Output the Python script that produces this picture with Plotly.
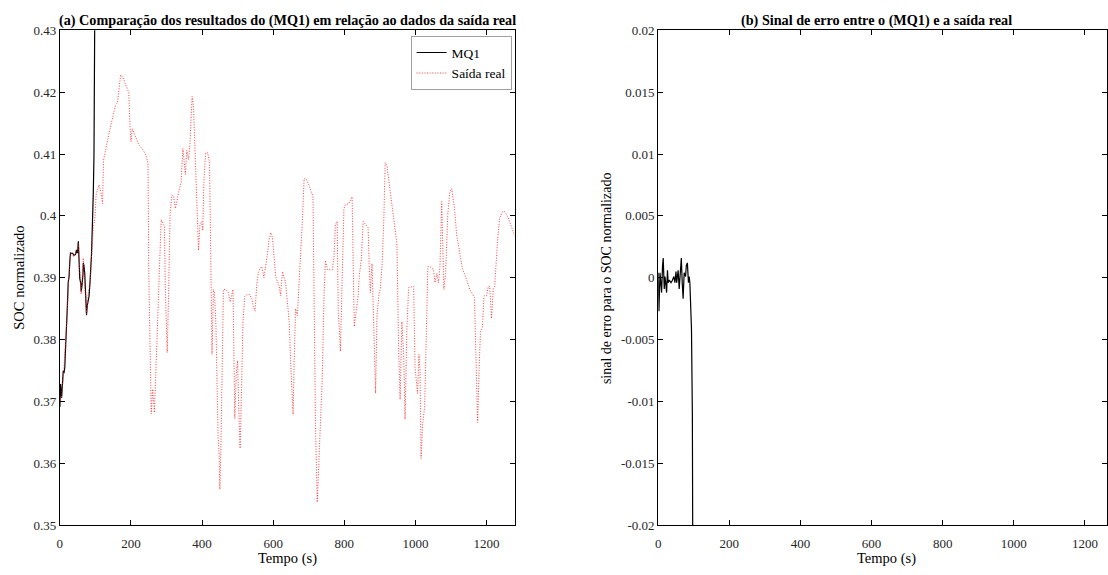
import numpy as np
import plotly.graph_objects as go

# Measured SOC (normalised) over time
real_t = [0, 5, 10, 15, 20, 25, 30, 35, 40, 45, 49, 52, 56, 60, 63, 66, 70, 75, 80, 85,
          90, 94, 99, 102, 110, 115, 120, 123, 138, 152, 157, 162, 166, 171, 178, 185, 194, 197, 200, 204,
          222, 236, 243, 248, 250, 257, 261, 266, 271, 276, 280, 285, 290, 294, 297, 302, 306, 310, 315, 320,
          325, 330, 336, 341, 346, 350, 353, 357, 362, 366, 372, 376, 381, 385, 390, 394, 399, 402, 405, 410,
          416, 421, 424, 428, 432, 435, 439, 442, 445, 448, 450, 453, 456, 460, 467, 474, 479, 483, 487, 489,
          492, 496, 500, 503, 507, 511, 515, 520, 528, 534, 540, 544, 549, 554, 558, 563, 568, 574, 579, 584,
          588, 593, 598, 602, 607, 612, 617, 621, 626, 630, 635, 640, 645, 649, 654, 656, 659, 663, 668, 673,
          677, 682, 687, 693, 701, 708, 712, 716, 719, 724, 729, 733, 738, 743, 747, 753, 761, 766, 771, 775,
          780, 783, 786, 789, 794, 799, 803, 813, 822, 825, 828, 833, 839, 842, 848, 853, 859, 867, 870, 873,
          878, 881, 886, 888, 892, 897, 901, 906, 911, 915, 920, 929, 939, 948, 953, 957, 962, 967, 971, 976,
          981, 990, 995, 999, 1006, 1010, 1013, 1016, 1020, 1026, 1030, 1035, 1041, 1051, 1055, 1060, 1065, 1069, 1074, 1077,
          1080, 1085, 1091, 1097, 1102, 1110, 1116, 1125, 1132, 1144, 1153, 1166, 1169, 1172, 1175, 1179, 1183, 1188, 1193, 1200,
          1205, 1209, 1214, 1219, 1223, 1231, 1237, 1245, 1251, 1261, 1270, 1279]
real_soc = [0.3695, 0.3710, 0.3740, 0.3780, 0.3835, 0.3900, 0.3938, 0.3936, 0.3934, 0.3940, 0.3942, 0.3955, 0.3905, 0.3873, 0.3900, 0.3932, 0.3890, 0.3842, 0.3876, 0.3890,
            0.3944, 0.3980, 0.3998, 0.4034, 0.4050, 0.4040, 0.4020, 0.4090, 0.4133, 0.4170, 0.4180, 0.4183, 0.4201, 0.4228, 0.4223, 0.4212, 0.4199, 0.4149, 0.4120, 0.4141,
            0.4115, 0.4105, 0.4097, 0.4085, 0.3913, 0.3680, 0.3720, 0.3682, 0.3770, 0.3834, 0.3928, 0.3994, 0.3987, 0.3983, 0.3876, 0.3779, 0.3876, 0.4002, 0.4034, 0.4031,
            0.4012, 0.4028, 0.4043, 0.4054, 0.4109, 0.4086, 0.4067, 0.4106, 0.4091, 0.4117, 0.4193, 0.4175, 0.4091, 0.4043, 0.3944, 0.3987, 0.3991, 0.3976, 0.4054, 0.4102,
            0.4102, 0.4086, 0.3908, 0.3776, 0.3881, 0.3876, 0.3823, 0.3719, 0.3645, 0.3613, 0.3558, 0.3624, 0.3771, 0.3881, 0.3881, 0.3876, 0.3861, 0.3873, 0.3881, 0.3798,
            0.3672, 0.3744, 0.3766, 0.3692, 0.3624, 0.3719, 0.3829, 0.3870, 0.3873, 0.3873, 0.3866, 0.3854, 0.3846, 0.3890, 0.3908, 0.3915, 0.3918, 0.3900, 0.3918, 0.3939,
            0.3960, 0.3973, 0.3965, 0.3934, 0.3902, 0.3894, 0.3886, 0.3871, 0.3910, 0.3902, 0.3892, 0.3860, 0.3829, 0.3766, 0.3713, 0.3679, 0.3766, 0.3850, 0.3839, 0.3892,
            0.3923, 0.3991, 0.4060, 0.4060, 0.4049, 0.4039, 0.4031, 0.3818, 0.3661, 0.3537, 0.3608, 0.3661, 0.3739, 0.3871, 0.3928, 0.3913, 0.3913, 0.3913, 0.3934, 0.3986,
            0.3991, 0.3844, 0.3818, 0.3781, 0.3897, 0.4012, 0.4018, 0.4020, 0.4031, 0.3897, 0.3821, 0.3844, 0.3871, 0.3902, 0.3931, 0.3991, 0.3986, 0.3981, 0.3923, 0.3876,
            0.3923, 0.3844, 0.3766, 0.3713, 0.3839, 0.3871, 0.3881, 0.3918, 0.3991, 0.4086, 0.4081, 0.4039, 0.3997, 0.3955, 0.3781, 0.3703, 0.3829, 0.3776, 0.3671, 0.3818,
            0.3884, 0.3886, 0.3886, 0.3755, 0.3713, 0.3776, 0.3750, 0.3608, 0.3661, 0.3692, 0.3776, 0.3918, 0.3918, 0.3913, 0.3892, 0.3907, 0.3892, 0.3918, 0.4023, 0.3939,
            0.3881, 0.3907, 0.4002, 0.4039, 0.4044, 0.4012, 0.3970, 0.3939, 0.3915, 0.3897, 0.3881, 0.3868, 0.3802, 0.3697, 0.3666, 0.3750, 0.3813, 0.3818, 0.3871, 0.3871,
            0.3886, 0.3886, 0.3834, 0.3881, 0.3886, 0.3960, 0.3997, 0.4007, 0.4007, 0.3997, 0.3981, 0.3968]

# Error signal (measured - MQ1)
err_t = [0, 2, 5, 7, 9.5, 12, 14, 17, 19, 21, 23.5, 26, 28, 31, 36, 40, 44, 47, 50, 52, 56,
         59, 62, 65, 67.5, 70, 73, 77, 79, 82, 85, 87, 89, 91.5, 93.5, 96, 98, 99, 102, 110]
err_val = [0.0004, -0.0027, 0.0004, -0.0004, -0.0012, 0.0009, 0.0016, -0.0009, 0.0001, -0.0004, -0.0012,
           0.0006, -0.0004, -0.0002, -0.0004, -0.0002, 0.0001, -0.0004, 0.0005, -0.0004, 0.0006,
           -0.0009, 0.0005, 0.0016, -0.0004, -0.0017, 0.0004, 0.0001, 0.0010, 0.0012, -0.0004,
           0.0001, -0.0004, -0.0023, -0.0041, -0.0110, -0.0200, -0.0300, -0.0600, -0.1500]

soc_ticks = [0.35, 0.36, 0.37, 0.38, 0.39, 0.40, 0.41, 0.42, 0.43]
soc_ticktext = ["0.35", "0.36", "0.37", "0.38", "0.39", "0.4", "0.41", "0.42", "0.43"]
err_ticks = [-0.02, -0.015, -0.01, -0.005, 0, 0.005, 0.01, 0.015, 0.02]
err_ticktext = ["-0.02", "-0.015", "-0.01", "-0.005", "0", "0.005", "0.01", "0.015", "0.02"]
time_ticks = [0, 200, 400, 600, 800, 1000, 1200]

# MQ1 estimate reconstructed from measured output and error signal
mq1_t = np.array(sorted(set([t for t in real_t if t <= 110]) | set(err_t)))
mq1_soc = np.interp(mq1_t, real_t, real_soc) - np.interp(mq1_t, err_t, err_val)

W, H = 1108, 575
FONT = "Liberation Serif"
TXT = "#262626"

fig = go.Figure()
fig.add_trace(go.Scatter(x=mq1_t, y=mq1_soc, mode="lines", name="MQ1",
                         line=dict(color="black", width=1.2), xaxis="x", yaxis="y"))
fig.add_trace(go.Scatter(x=real_t, y=real_soc, mode="lines", name="Saída real",
                         line=dict(color="rgba(255,40,40,0.9)", width=1, dash="1px,1.6px"),
                         xaxis="x", yaxis="y"))
fig.add_trace(go.Scatter(x=err_t, y=err_val, mode="lines", showlegend=False,
                         line=dict(color="black", width=1.2), xaxis="x2", yaxis="y2"))

ydom = [1 - 532 / H, 1 - 24 / H]
axis_common = dict(showline=True, linecolor="black", linewidth=1, mirror="ticks",
                   ticks="inside", ticklen=5, tickcolor="black", showgrid=False,
                   zeroline=False, tickfont=dict(family=FONT, size=13, color=TXT))

fig.update_layout(
    width=W, height=H, margin=dict(l=0, r=0, t=0, b=0),
    paper_bgcolor="white", plot_bgcolor="white",
    xaxis=dict(domain=[57 / W, 513 / W], range=[0, 1279], tickvals=time_ticks,
               anchor="y", ticklabelstandoff=6, **axis_common),
    yaxis=dict(domain=ydom, range=[0.35, 0.43], tickvals=soc_ticks, ticktext=soc_ticktext,
               anchor="x", **axis_common),
    xaxis2=dict(domain=[657 / W, 1107 / W], range=[0, 1262], tickvals=time_ticks,
                anchor="y2", ticklabelstandoff=6, **axis_common),
    yaxis2=dict(domain=ydom, range=[-0.02, 0.02], tickvals=err_ticks, ticktext=err_ticktext,
                anchor="x2", **axis_common),
    legend=dict(x=510 / W, y=1 - 30 / H, xanchor="right", yanchor="top",
                bgcolor="white", bordercolor="#a0a0a0", borderwidth=1,
                font=dict(family=FONT, size=13.5, color="black"),
                tracegroupgap=0, itemwidth=30),
    showlegend=True,
)

ann = [
    dict(text="<b>(a) Comparação dos resultados do (MQ1) em relação ao dados da saída real</b>",
         x=285 / W, y=1 - 14 / H, font=dict(size=14.2)),
    dict(text="<b>(b) Sinal de erro entre o (MQ1) e a saída real</b>",
         x=876 / W, y=1 - 14 / H, font=dict(size=14.2)),
    dict(text="Tempo (s)", x=285 / W, y=1 - 566 / H, font=dict(size=14.5)),
    dict(text="Tempo (s)", x=886 / W, y=1 - 566 / H, font=dict(size=14.5)),
    dict(text="SOC normalizado", x=16 / W, y=1 - 278 / H, textangle=-90, font=dict(size=14.5)),
    dict(text="sinal de erro para o SOC normalizado", x=605 / W, y=1 - 278 / H,
         textangle=-90, font=dict(size=14)),
]
for a in ann:
    a["font"].update(family=FONT, color="black")
    fig.add_annotation(xref="paper", yref="paper", showarrow=False,
                       xanchor="center", yanchor="middle", **a)

fig.write_html("out.html")
